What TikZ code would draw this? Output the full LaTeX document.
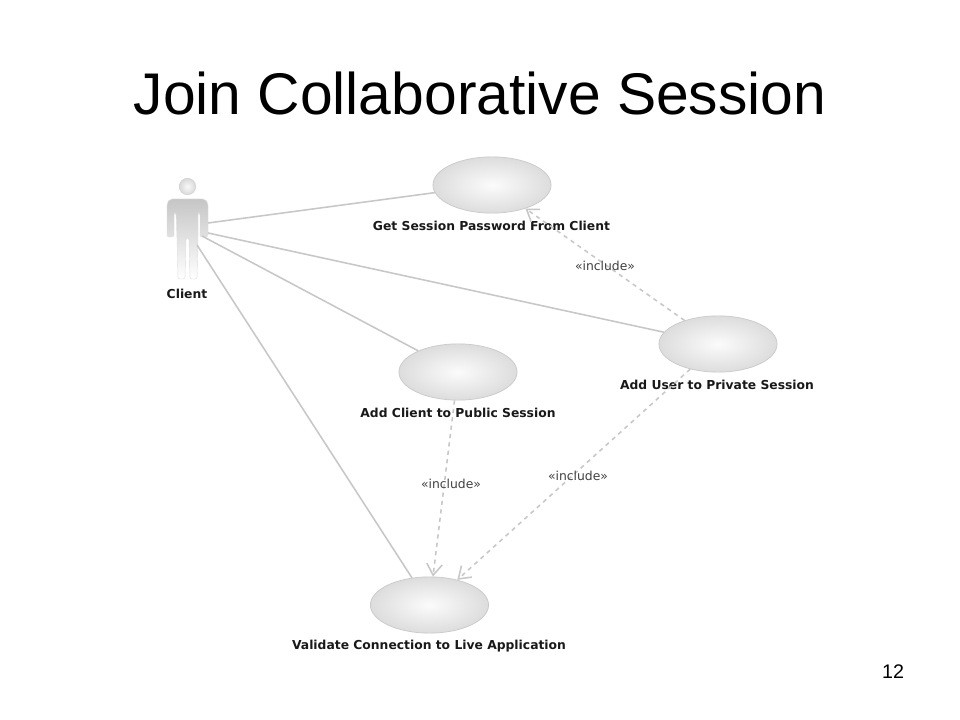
\documentclass[tikz,border=0pt]{standalone}
\usepackage{fontspec}
\setmainfont{Liberation Sans}
\newfontfamily\umlfont{DejaVu Sans}
\usetikzlibrary{arrows.meta,shapes.geometric}
\definecolor{assoc}{gray}{0.78}
\tikzset{
    usecase/.style={ellipse, minimum width=84pt, minimum height=40pt, inner sep=0pt, draw=gray!42, line width=0.5pt, inner color=gray!3, outer color=gray!27},
    caselabel/.style={font=\umlfont\bfseries\fontsize{8.77}{11}\selectfont, text=black!90, inner sep=0pt},
    inclabel/.style={font=\umlfont\fontsize{8.8}{10}\selectfont, text=black!75, inner sep=0pt},
    assocline/.style={draw=assoc, line width=1.1pt},
    inclline/.style={draw=assoc, line width=1.1pt, dashed, -{Straight Barb[length=8pt,width=11pt]}}
}
\begin{document}
\begin{tikzpicture}[x=0.025cm, y=-0.025cm]
    \useasboundingbox (0,0) rectangle (960,720);
    \fill[white] (0,0) rectangle (960,720);

    \node[font=\fontsize{41.8}{50}\selectfont, inner sep=0pt] (title) at (480,93) {Join Collaborative Session};
    \node[font=\fontsize{14}{16}\selectfont, inner sep=0pt] (pagenum) at (893,672) {12};

    % the actor
    \shade[top color=gray!45, bottom color=white, draw=gray!25, line width=0.3pt, rounded corners=1.5pt]
        (170,199) -- (205,199) -- (208,203) -- (208,237) -- (200,237) -- (200,213) -- (198,213) -- (198,238)
        -- (197,279) -- (190,279) -- (189,238) -- (186,238) -- (185,279) -- (178,279) -- (177,238) -- (176,213)
        -- (174,213) -- (174,237) -- (167,237) -- (167,203) -- cycle;
    \node[circle, minimum size=11.7pt, inner sep=0pt, draw=gray!35, line width=0.4pt, inner color=gray!5, outer color=gray!30] (head) at (187.5,186.5) {};
    \node[caselabel] (client) at (187,293.5) {Client};
    \coordinate (armA) at (208,223);
    \coordinate (armB) at (208,233);
    \coordinate (armC) at (202,236);
    \coordinate (legA) at (197,245);

    % use cases
    \foreach \name/\x/\y in {get/492/185, adduser/718/344, addclient/458/372, validate/429.5/605}{
        \node[usecase] (\name) at (\x,\y) {};
    }
    \node[caselabel] (getlabel) at (491.5,226) {Get Session Password From Client};
    \node[caselabel] (adduserlabel) at (717,385) {Add User to Private Session};
    \node[caselabel] (addclientlabel) at (458,413) {Add Client to Public Session};
    \node[caselabel] (validatelabel) at (429,646) {Validate Connection to Live Application};

    \foreach \from/\to in {armA/get, armB/adduser, armC/addclient, legA/validate}{
        \draw[assocline] (\from) -- (\to);
    }
    \foreach \from/\to in {adduser/get, addclient/validate, adduser/validate}{
        \draw[inclline] (\from) -- (\to);
    }

    \node[inclabel] (incget) at (605,266) {«include»};
    \node[inclabel] (incpublic) at (451,484) {«include»};
    \node[inclabel] (incprivate) at (578,476) {«include»};
\end{tikzpicture}
\end{document}
